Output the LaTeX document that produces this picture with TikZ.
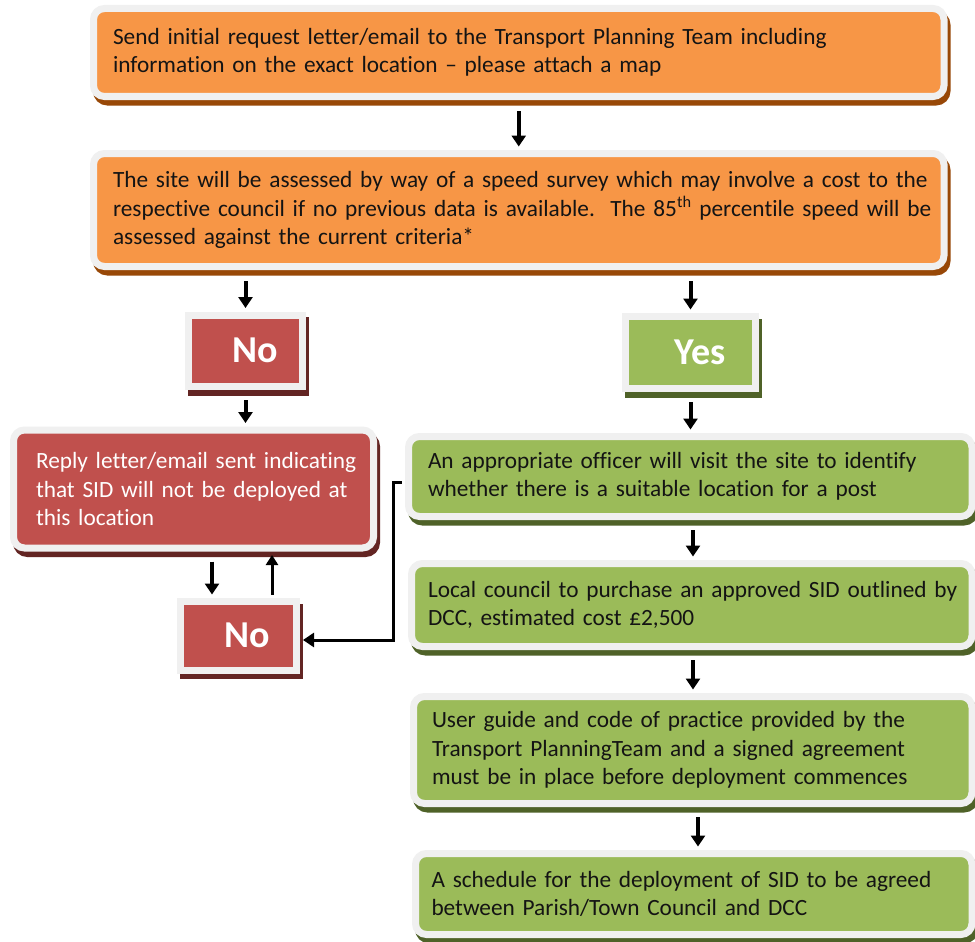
\documentclass[tikz,border=0pt]{standalone}
\usepackage{fontspec}
\setmainfont{Carlito}[Ligatures={TeX,NoCommon}]
\usetikzlibrary{arrows.meta}
\definecolor{orfill}{HTML}{F79646}
\definecolor{orshadow}{HTML}{984807}
\definecolor{grfill}{HTML}{9BBB59}
\definecolor{grshadow}{HTML}{4F6228}
\definecolor{rdfill}{HTML}{C0504D}
\definecolor{rdshadow}{HTML}{632523}
\definecolor{bordergrey}{HTML}{F0F0F0}
\definecolor{textdark}{HTML}{141414}
\newcommand{\bodyfont}{\fontsize{23.3}{28.5}\selectfont}
\newcommand{\bigfont}{\fontsize{38}{40}\selectfont\bfseries}
\newcommand{\tl}[1]{\mbox{#1}}
\tikzset{
  basebox/.style={rectangle, draw=bordergrey, line width=7pt, inner sep=0pt, align=left, font=\bodyfont, text=textdark},
  shadowed/.style={preaction={draw=#1, fill=#1, line width=7pt, transform canvas={shift={(3pt,-5.5pt)}}}},
  roundbox/.style={basebox, rounded corners=11pt},
  orbox/.style={roundbox, shadowed=orshadow, fill=orfill},
  grbox/.style={roundbox, shadowed=grshadow, fill=grfill},
  rdbox/.style={roundbox, shadowed=rdshadow, fill=rdfill, text=white},
  yesbox/.style={basebox, shadowed=grshadow, fill=grfill, text=white, align=center, font=\bigfont},
  nobox/.style={basebox, shadowed=rdshadow, fill=rdfill, text=white, align=center, font=\bigfont},
  arr/.style={draw=black, line width=4pt, -{Triangle[length=11pt,width=14pt]}, shorten >=3.5pt},
}
\begin{document}
\begin{tikzpicture}[x=1pt, y=-1pt]
\useasboundingbox (0,0) rectangle (975,942);
\fill[white] (0,0) rectangle (975,942);

\node[orbox, minimum width=850.5pt, minimum height=88pt, text width=811.5pt] (box1) at (518.75,52.5)
  {\tl{Send initial request letter/email to the Transport Planning Team including}\\\tl{information on the exact location -- please attach a map}};
\node[orbox, minimum width=850.5pt, minimum height=113pt, text width=811.5pt] (box2) at (518.75,210)
  {\tl{The site will be assessed by way of a speed survey which may involve a cost to the}\\\tl{respective council if no previous data is available.\ \ The 85\textsuperscript{th} percentile speed will be}\\\tl{assessed against the current criteria*}};

\node[nobox, minimum width=114pt, minimum height=71.5pt] (no1) at (245.5,350.75) {\hspace*{19pt}No};
\node[yesbox, minimum width=130pt, minimum height=72pt] (yes) at (690.5,352.5) {\hspace*{19pt}Yes};

\node[rdbox, minimum width=360pt, minimum height=118pt, text width=315pt] (reply) at (193.5,489)
  {\tl{Reply letter/email sent indicating}\\\tl{that SID will not be deployed at}\\\tl{this location}};

\node[grbox, minimum width=563.5pt, minimum height=80pt, text width=524.5pt] (officer) at (690.25,476.5)
  {\tl{An appropriate officer will visit the site to identify}\\\tl{whether there is a suitable location for a post}};
\node[grbox, minimum width=560.5pt, minimum height=83pt, text width=527.5pt] (council) at (691.75,605)
  {\tl{Local council to purchase an approved SID outlined by}\\\tl{DCC, estimated cost £2,500}};
\node[grbox, minimum width=558.5pt, minimum height=107pt, text width=521.5pt] (user) at (692.75,750)
  {\tl{User guide and code of practice provided by the}\\\tl{Transport PlanningTeam and a signed agreement}\\\tl{must be in place before deployment commences}};
\node[grbox, minimum width=556.5pt, minimum height=81pt, text width=524.5pt] (sched) at (693.75,894)
  {\tl{A schedule for the deployment of SID to be agreed}\\\tl{between Parish/Town Council and DCC}};

\node[nobox, minimum width=116pt, minimum height=68.5pt] (no2) at (238,635.75) {\hspace*{19pt}No};

% connectors
\draw[arr, shorten <=11pt] (box1.south) -- (box2.north);
\draw[arr, shorten <=11pt] (box2.south -| no1.north) -- (no1.north);
\draw[arr, shorten <=11pt] (box2.south -| yes.north) -- (yes.north);
\draw[arr, shorten <=10pt] (no1.south) -- (reply.north -| no1.south);
\draw[arr, shorten <=10pt] (yes.south) -- (officer.north -| yes.south);
\coordinate (ax1) at (693,0);
\draw[arr, shorten <=10pt] (officer.south -| ax1) -- (council.north -| ax1);
\draw[arr, shorten <=10pt] (council.south -| ax1) -- (user.north -| ax1);
\coordinate (ax2) at (698,0);
\draw[arr, shorten <=10pt] (user.south -| ax2) -- (sched.north -| ax2);
\coordinate (d1) at (212,0);
\coordinate (u1) at (272,0);
\draw[arr, shorten <=10pt] (reply.south -| d1) -- (no2.north -| d1);
\draw[arr, line width=3pt, -{Triangle[length=10pt,width=12pt]}, shorten <=3.5pt] (no2.north -| u1) -- (reply.south -| u1);
\coordinate (c1) at (393,482);
\coordinate (c2) at (393,640);
\draw[arr, line width=3pt, shorten <=3.5pt] (officer.west |- c1) -- (c1) -- (c2) -- (no2.east |- c2);
\end{tikzpicture}
\end{document}
